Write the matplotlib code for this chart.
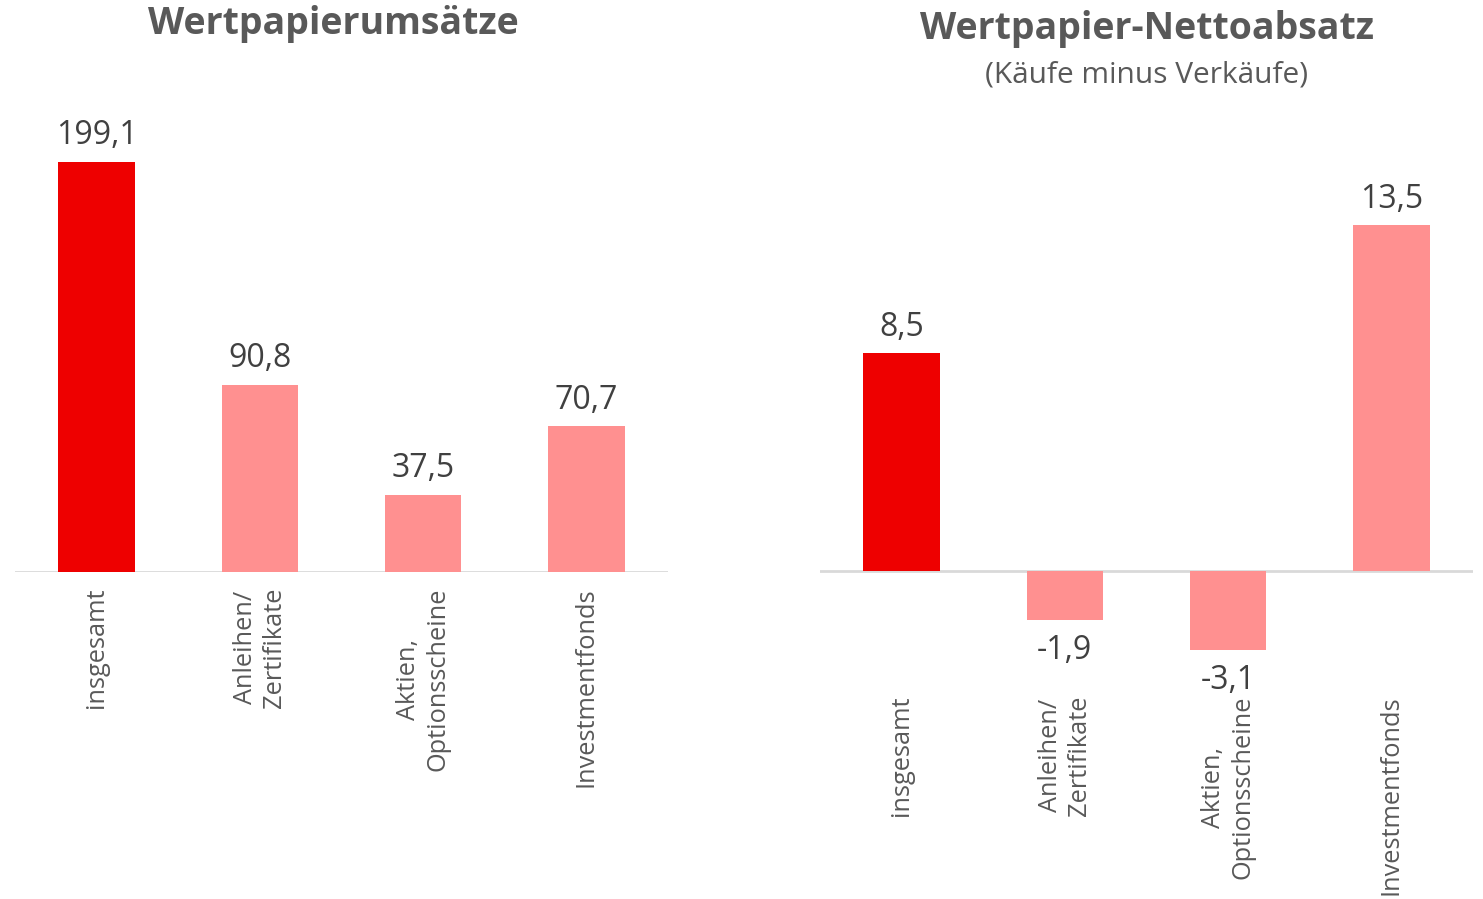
import matplotlib.pyplot as plt

plt.rcParams['font.family'] = ['Open Sans', 'DejaVu Sans']

# data
categories = ['insgesamt', 'Anleihen/\nZertifikate', 'Aktien,\nOptionsscheine', 'Investmentfonds']
umsaetze = [199.1, 90.8, 37.5, 70.7]
nettoabsatz = [8.5, -1.9, -3.1, 13.5]
title_left = 'Wertpapierumsätze'
title_right = 'Wertpapier-Nettoabsatz'
subtitle_right = '(Käufe minus Verkäufe)'

dark_red = '#EE0000'
light_red = '#FF9090'
bar_colors = [dark_red, light_red, light_red, light_red]
label_col = '#595959'
value_col = '#404040'

W, H = 1483, 899
fig = plt.figure(figsize=(W / 100, H / 100), dpi=100)


def px_axes(x0, x1, ytop, ybot):
    return fig.add_axes([x0 / W, 1 - ybot / H, (x1 - x0) / W, (ybot - ytop) / H])


def fmt(v):
    return f'{v:.1f}'.replace('.', ',')


def draw(ax, values, ylim):
    x = range(len(values))
    bars = ax.bar(x, values, width=0.47, color=bar_colors, zorder=2)
    ax.axhline(0, color='#D9D9D9', lw=2, zorder=1)
    ax.set_xlim(-0.5, len(values) - 0.5)
    ax.set_ylim(*ylim)
    for s in ax.spines.values():
        s.set_visible(False)
    ax.set_yticks([])
    ax.set_xticks(list(x))
    ax.set_xticklabels(categories, rotation=90, fontsize=18.3, color=label_col,
                       va='top', ha='center', multialignment='center')
    ax.tick_params(axis='x', length=0, pad=11)
    for b, v in zip(bars, values):
        if v >= 0:
            ax.annotate(fmt(v), (b.get_x() + b.get_width() / 2, v), xytext=(0, 7),
                        textcoords='offset points', ha='center', va='bottom',
                        fontsize=23, color=value_col)
        else:
            ax.annotate(fmt(v), (b.get_x() + b.get_width() / 2, v), xytext=(0, -10),
                        textcoords='offset points', ha='center', va='top',
                        fontsize=23, color=value_col)


ax1 = px_axes(15, 668, 120, 572)
draw(ax1, umsaetze, (0, 452 / 2.06))

ax2 = px_axes(820, 1473, 120, 680)
draw(ax2, nettoabsatz, (-(680 - 571) / 25.6, (571 - 120) / 25.6))

fig.text(333 / W, 1 - 24 / H, title_left, ha='center', va='center',
         fontsize=27, fontweight='bold', color=label_col)
fig.text(1147 / W, 1 - 29 / H, title_right, ha='center', va='center',
         fontsize=27, fontweight='bold', color=label_col)
fig.text(1147 / W, 1 - 75 / H, subtitle_right, ha='center', va='center',
         fontsize=21.5, color=label_col)

fig.savefig('out.png', dpi=100)
